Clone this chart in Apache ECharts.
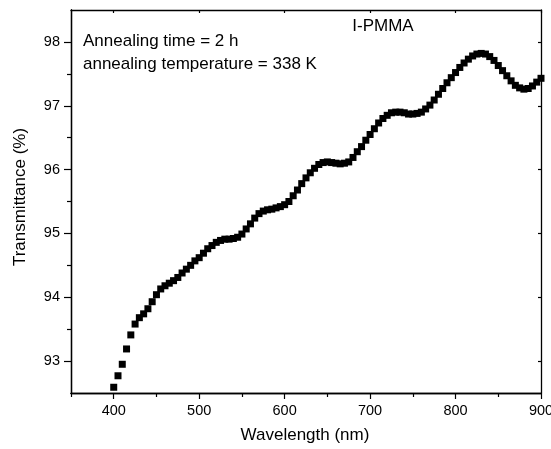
<!DOCTYPE html>
<html>
<head>
    <meta charset="utf-8">
    <title>I-PMMA transmittance</title>
</head>
<body style="margin:0;">
<div id="main" style="width:551px;height:449px;"></div>
<script src="https://cdn.jsdelivr.net/npm/echarts@6/dist/echarts.min.js" type="text/javascript"></script>
<script type="text/javascript">

// wavelength (nm)
var wavelengths = [
    400,405,410,415,420,425,430,435,440,445,450,455,460,465,470,475,480,485,490,495,
    500,505,510,515,520,525,530,535,540,545,550,555,560,565,570,575,580,585,590,595,
    600,605,610,615,620,625,630,635,640,645,650,655,660,665,670,675,680,685,690,695,
    700,705,710,715,720,725,730,735,740,745,750,755,760,765,770,775,780,785,790,795,
    800,805,810,815,820,825,830,835,840,845,850,855,860,865,870,875,880,885,890,895,
    900
];
// transmittance (%)
var transmittance = [
    92.59,92.77,92.95,93.19,93.41,93.58,93.68,93.74,93.82,93.93,94.04,94.13,94.18,94.22,94.26,94.31,94.38,94.44,94.50,94.57,
    94.62,94.69,94.76,94.81,94.86,94.89,94.91,94.91,94.92,94.94,94.99,95.07,95.15,95.24,95.31,95.35,95.37,95.38,95.40,95.42,
    95.45,95.50,95.59,95.68,95.78,95.87,95.95,96.02,96.08,96.11,96.12,96.11,96.10,96.09,96.10,96.12,96.19,96.28,96.36,96.46,
    96.55,96.64,96.73,96.80,96.85,96.89,96.90,96.90,96.89,96.87,96.87,96.88,96.90,96.95,97.01,97.09,97.18,97.27,97.36,97.44,
    97.52,97.60,97.67,97.73,97.78,97.81,97.82,97.81,97.77,97.71,97.63,97.55,97.47,97.39,97.32,97.28,97.26,97.27,97.31,97.37,
    97.43
];
var xMajor = [400,500,600,700,800,900];
var xMinor = [350,450,550,650,750,850];
var yMajor = [93,94,95,96,97,98];
var yMinor = [93.5,94.5,95.5,96.5,97.5];

var font = 'Liberation Sans, Arial, sans-serif';
var black = '#000';

var myChart = echarts.init(document.getElementById('main'));

var points = [];
for (var i = 0; i < wavelengths.length; i++) {
    points.push([wavelengths[i], transmittance[i]]);
}

function xAxisDef(pos, ticks, len, inside, labels) {
    return {
        type: 'value', position: pos, min: 350, max: 900,
        axisLine: {show: true, onZero: false, lineStyle: {color: black, width: 1.3}},
        axisTick: {show: true, inside: inside, length: len, customValues: ticks,
                   lineStyle: {color: black, width: 1.2}},
        axisLabel: labels ? {show: true, customValues: ticks, margin: 10,
                   fontFamily: font, fontSize: 14.5, color: black} : {show: false},
        splitLine: {show: false}
    };
}
function yAxisDef(pos, ticks, len, inside, labels) {
    return {
        type: 'value', position: pos, min: 92.5, max: 98.5,
        axisLine: {show: true, onZero: false, lineStyle: {color: black, width: 1.3}},
        axisTick: {show: true, inside: inside, length: len, customValues: ticks,
                   lineStyle: {color: black, width: 1.2}},
        axisLabel: labels ? {show: true, customValues: ticks, margin: 11,
                   fontFamily: font, fontSize: 14.5, color: black} : {show: false},
        splitLine: {show: false}
    };
}

var option = {
    animation: false,
    backgroundColor: '#fff',
    grid: {left: 71, right: 10, top: 10, bottom: 56, containLabel: false, outerBoundsMode: 'none'},
    xAxis: [
        xAxisDef('bottom', xMajor, 6, false, true),
        xAxisDef('bottom', xMinor, 4, false, false),
        xAxisDef('top', xMajor, 3, true, false)
    ],
    yAxis: [
        yAxisDef('left', yMajor, 7, false, true),
        yAxisDef('left', yMinor, 4, false, false),
        yAxisDef('right', yMajor, 3, true, false)
    ],
    graphic: [
        {type: 'text', left: 83, top: 33,
         style: {text: 'Annealing time = 2 h', font: '17px ' + font, fill: black}},
        {type: 'text', left: 83, top: 56,
         style: {text: 'annealing temperature = 338 K', font: '17px ' + font, fill: black}},
        {type: 'text', x: 383, y: 26,
         style: {text: 'I-PMMA', font: '17px ' + font, fill: black,
                 textAlign: 'center', textVerticalAlign: 'middle'}},
        {type: 'text', x: 305, y: 435,
         style: {text: 'Wavelength (nm)', font: '17px ' + font, fill: black,
                 textAlign: 'center', textVerticalAlign: 'middle'}},
        {type: 'text', x: 20, y: 197, rotation: Math.PI / 2,
         style: {text: 'Transmittance (%)', font: '17px ' + font, fill: black,
                 textAlign: 'center', textVerticalAlign: 'middle'}}
    ],
    series: [{
        type: 'scatter',
        xAxisIndex: 0,
        yAxisIndex: 0,
        symbol: 'rect',
        symbolSize: 7,
        itemStyle: {color: black, opacity: 1},
        data: points
    }]
};

myChart.setOption(option);
</script>
</body>
</html>
